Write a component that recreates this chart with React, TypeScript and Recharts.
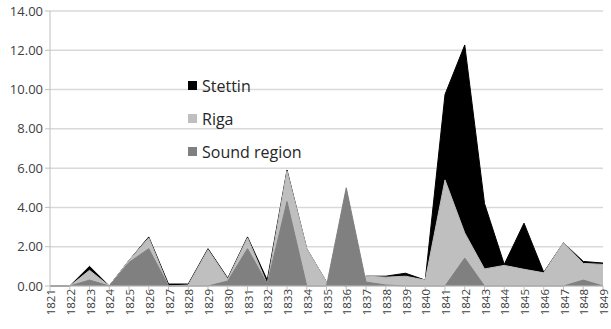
import { AreaChart, Area, XAxis, YAxis, CartesianGrid } from 'recharts';

const years = [
  '1821', '1822', '1823', '1824', '1825', '1826', '1827', '1828', '1829', '1830',
  '1831', '1832', '1833', '1834', '1835', '1836', '1837', '1838', '1839', '1840',
  '1841', '1842', '1843', '1844', '1845', '1846', '1847', '1848', '1849',
];
const stettin = [
  0, 0, 1.0, 0, 1.3, 2.5, 0.1, 0.1, 1.9, 0.4,
  2.5, 0.3, 5.9, 1.9, 0.2, 0, 0.5, 0.5, 0.65, 0.3,
  9.75, 12.27, 4.2, 1.1, 3.2, 0.7, 2.2, 1.25, 1.17,
];
const riga = [
  0, 0, 0.8, 0, 1.3, 2.45, 0, 0.05, 1.85, 0.35,
  2.45, 0.1, 5.85, 1.9, 0.2, 0, 0.5, 0.45, 0.5, 0.3,
  5.4, 2.7, 0.87, 1.05, 0.85, 0.67, 2.2, 1.15, 1.1,
];
const sound = [
  0, 0, 0.3, 0, 1.2, 1.9, 0, 0, 0, 0.25,
  1.9, 0.1, 4.3, 0, 0, 5.0, 0.2, 0.05, 0, 0,
  0, 1.42, 0, 0, 0, 0, 0, 0.3, 0,
];
const yTicks = [0, 2, 4, 6, 8, 10, 12, 14];
const legendItems = [
  { label: 'Stettin', color: '#000000' },
  { label: 'Riga', color: '#bfbfbf' },
  { label: 'Sound region', color: '#808080' },
];

const data = years.map((year, i) => ({
  year,
  stettin: stettin[i],
  riga: riga[i],
  sound: sound[i],
}));

const font = '"Open Sans", Lato, sans-serif';

export default function App() {
  return (
    <div style={{ position: 'absolute', left: 0, top: 0, width: 611, height: 329, background: '#fff' }}>
      <AreaChart width={611} height={329} data={data} margin={{ top: 11, right: 8, left: 0, bottom: 0 }}>
        <CartesianGrid stroke="#d9d9d9" strokeWidth={1.5} vertical={false} />
        <XAxis
          dataKey="year"
          interval={0}
          angle={-90}
          textAnchor="end"
          height={43}
          axisLine={{ stroke: '#bfbfbf' }}
          tickLine={{ stroke: '#bfbfbf' }}
          tickSize={5}
          tick={{ fill: '#404040', fontSize: 11.5, fontFamily: font, dx: -3, dy: -4 }}
        />
        <YAxis
          width={50}
          domain={[0, 14]}
          ticks={yTicks}
          tickFormatter={(v: number) => v.toFixed(2)}
          axisLine={{ stroke: '#bfbfbf' }}
          tickLine={{ stroke: '#bfbfbf' }}
          tickSize={5}
          tick={{ fill: '#404040', fontSize: 13, fontFamily: font }}
        />
        <Area type="linear" dataKey="stettin" name="Stettin" stroke="#000000" strokeWidth={1} fill="#000000" fillOpacity={1} isAnimationActive={false} />
        <Area type="linear" dataKey="riga" name="Riga" stroke="#bfbfbf" strokeWidth={1} fill="#bfbfbf" fillOpacity={1} isAnimationActive={false} />
        <Area type="linear" dataKey="sound" name="Sound region" stroke="#808080" strokeWidth={1} fill="#808080" fillOpacity={1} isAnimationActive={false} />
      </AreaChart>
      <div style={{ position: 'absolute', left: 188, top: 69, fontFamily: font, fontSize: 16, color: '#262626' }}>
        {legendItems.map((item) => (
          <div key={item.label} style={{ display: 'flex', alignItems: 'center', height: 33 }}>
            <span style={{ width: 9, height: 9, background: item.color, marginRight: 5, display: 'inline-block' }} />
            {item.label}
          </div>
        ))}
      </div>
    </div>
  );
}
